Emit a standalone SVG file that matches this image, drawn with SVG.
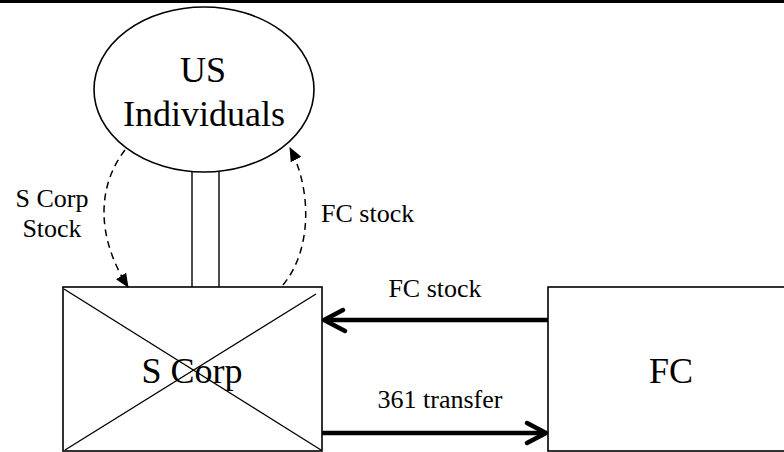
<svg xmlns="http://www.w3.org/2000/svg" width="784" height="452" viewBox="0 0 784 452">
<defs>
<style>
.shape{fill:#fff;stroke:#000;stroke-width:1.6}
.thin{fill:none;stroke:#000;stroke-width:1.4}
.dash{fill:none;stroke:#000;stroke-width:1.5;stroke-dasharray:7,5}
.thick{fill:none;stroke:#000;stroke-width:4.5}
.chev{fill:none;stroke:#000;stroke-width:4.5;stroke-linecap:round;stroke-linejoin:round}
text{font-family:'Times New Roman','Liberation Serif',Tinos,serif;fill:#000}
.big{font-size:36px}
.lbl{font-size:26px}
</style>
<marker id="tri" markerUnits="userSpaceOnUse" markerWidth="14" markerHeight="12" viewBox="0 0 14 12" refX="13" refY="6" orient="auto">
<path d="M0,0 L14,6 L0,12 Z" fill="#000"/>
</marker>
</defs>
<rect x="0" y="0" width="784" height="3" fill="#000"/>
<g id="us-individuals">
<ellipse class="shape" cx="204" cy="89.5" rx="110" ry="82.5"/>
<text class="big" x="203" y="82" text-anchor="middle">US</text>
<text class="big" x="204" y="126" text-anchor="middle">Individuals</text>
</g>
<g id="s-corp">
<rect class="shape" x="63" y="287" width="259" height="164"/>
<line class="thin" x1="64" y1="289" x2="321" y2="450"/>
<line class="thin" x1="316" y1="294" x2="65" y2="450"/>
<text class="big" x="192" y="383" text-anchor="middle">S Corp</text>
</g>
<g id="fc">
<rect class="shape" x="548" y="287" width="250" height="164"/>
<text class="big" x="671" y="383" text-anchor="middle">FC</text>
</g>
<g id="connectors">
<line class="thin" x1="192" y1="171" x2="192" y2="287"/>
<line class="thin" x1="219" y1="171" x2="219" y2="287"/>
<path class="dash" d="M125,150 C98,185 95,235 128,287" marker-end="url(#tri)"/>
<path class="dash" d="M283,285 C312,250 312,190 290,148" marker-end="url(#tri)"/>
<line class="thick" x1="548" y1="320" x2="325" y2="320"/>
<path class="chev" d="M343,310 L324,320 L345,331"/>
<line class="thick" x1="322" y1="433" x2="545" y2="433"/>
<path class="chev" d="M527,423 L546,433 L527,443"/>
<text class="lbl" x="52" y="207" text-anchor="middle">S Corp</text>
<text class="lbl" x="52" y="237" text-anchor="middle">Stock</text>
<text class="lbl" x="321" y="222">FC stock</text>
<text class="lbl" x="435" y="297" text-anchor="middle">FC stock</text>
<text class="lbl" x="440" y="408" text-anchor="middle">361 transfer</text>
</g>
</svg>
